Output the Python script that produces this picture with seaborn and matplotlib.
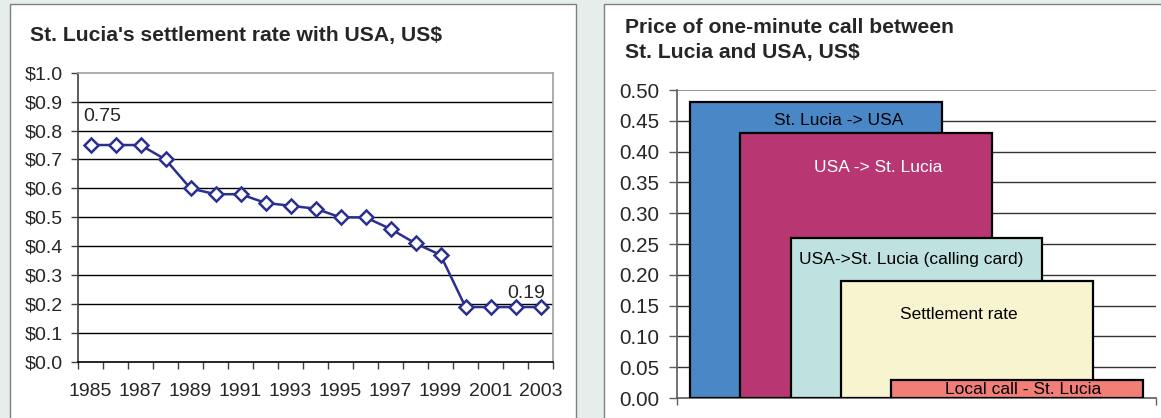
import numpy as np
import pandas as pd
import matplotlib
matplotlib.use("Agg")
import matplotlib.pyplot as plt
from matplotlib.patches import Rectangle
import seaborn as sns

# Left chart data: settlement rate, US$
years = list(range(1985, 2004))
rates = [0.75, 0.75, 0.75, 0.70, 0.60, 0.58, 0.58, 0.55, 0.54, 0.53,
         0.50, 0.50, 0.46, 0.41, 0.37, 0.19, 0.19, 0.19, 0.19]

# Right chart data: price of one-minute call, US$
call_types = ["St. Lucia -> USA", "USA -> St. Lucia",
              "USA->St. Lucia (calling card)", "Settlement rate",
              "Local call - St. Lucia"]
call_prices = [0.48, 0.43, 0.26, 0.19, 0.03]
bar_colors = ["#4A87C7", "#B83772", "#BFE2E0", "#F8F4D0", "#F17F77"]
label_colors = ["black", "white", "black", "black", "black"]

sns.set_theme(style="white")
plt.rcParams['font.family'] = ['Liberation Sans', 'DejaVu Sans']

W, H = 1161, 418
fig = plt.figure(figsize=(W / 100, H / 100), dpi=100)
fig.patch.set_facecolor("#E5EEEA")

# White panels behind the two charts
for x0, x1 in [(10, 576), (604, 1175)]:
    fig.patches.append(Rectangle((x0 / W, -0.05), (x1 - x0) / W, 1 - 4 / H + 0.05,
                                 transform=fig.transFigure, facecolor="white",
                                 edgecolor="#7F7F7F", linewidth=1.0, zorder=-5))

# ---- Left: line chart ----
ax1 = fig.add_axes([78 / W, 1 - 362 / H, (553 - 78) / W, (362 - 72.7) / H])
ax1.patch.set_alpha(0)
df = pd.DataFrame({"year": years, "rate": rates})
sns.lineplot(data=df, x="year", y="rate", ax=ax1, color="#2B2F8F", linewidth=1.8,
             marker="D", markersize=7.5, markerfacecolor="white",
             markeredgecolor="#2B2F8F", markeredgewidth=1.8, zorder=3)
ax1.set_xlim(years[0] - 0.5, years[-1] + 0.5)
ax1.set_ylim(0, 1.0)
ax1.set_yticks(np.arange(0, 1.01, 0.1))
ax1.set_yticklabels([f"${v:.1f}" for v in np.arange(0, 1.01, 0.1)])
ax1.set_xticks(np.arange(years[0] - 0.5, years[-1] + 1), labels=[])
ax1.set_xticks(years[::2], labels=[str(y) for y in years[::2]], minor=True)
ax1.tick_params(axis="x", which="major", direction="out", length=5, width=1,
                color="#404040", bottom=True)
ax1.tick_params(axis="x", which="minor", length=0, pad=15, labelsize=14)
ax1.tick_params(axis="y", direction="out", length=5, width=1, color="#404040",
                left=True, pad=6, labelsize=14)
for v in np.arange(0.1, 0.95, 0.1):
    ax1.axhline(v, color="black", linewidth=1.0, zorder=1)
ax1.spines["top"].set_color("#A0A0A0")
ax1.spines["right"].set_color("#A0A0A0")
ax1.spines["left"].set_color("#404040")
ax1.spines["bottom"].set_color("black")
for s in ax1.spines.values():
    s.set_linewidth(1.2)
ax1.set_xlabel("")
ax1.set_ylabel("")
ax1.annotate(f"{rates[0]:.2f}", (years[0], rates[0]), xytext=(8.6, 17),
             textcoords="offset points", ha="center", va="baseline", fontsize=14)
ax1.annotate(f"{rates[-1]:.2f}", (years[-1], rates[-1]), xytext=(-10, 6.5),
             textcoords="offset points", ha="center", va="baseline", fontsize=14)
fig.text(30 / W, 1 - 41 / H, "St. Lucia's settlement rate with USA, US$",
         fontsize=15.2, fontweight="bold", va="baseline", ha="left")

# ---- Right: overlapping bars ----
ax2 = fig.add_axes([677 / W, 1 - 398 / H, (1156 - 677) / W, (398 - 90) / H])
ax2.patch.set_alpha(0)
step, width, start = 1.0, 5.0, 0.26
label_dx = [2.96, 2.74, 2.39, 2.35, 2.62]
label_y = [0.451, 0.375, 0.225, 0.136, 0.014]
for i, (name, price) in enumerate(zip(call_types, call_prices)):
    left = start + i * step
    ax2.bar(left, price, width=width, align="edge", color=bar_colors[i],
            edgecolor="black", linewidth=1.6, zorder=3 + i)
    ax2.text(left + label_dx[i], label_y[i], name, ha="center", va="center",
             color=label_colors[i], fontsize=12.5, zorder=10)
ax2.set_xlim(0, 9.52)
ax2.set_ylim(0, 0.5)
ax2.set_yticks(np.arange(0, 0.501, 0.05))
ax2.set_yticklabels([f"{v:.2f}" for v in np.arange(0, 0.501, 0.05)])
for v in np.arange(0.05, 0.46, 0.05):
    ax2.axhline(v, color="#333333", linewidth=1.0, zorder=1)
ax2.axhline(0.5, color="#808080", linewidth=1.2, zorder=1)
ax2.set_xticks([0, 9.52], labels=[])
ax2.tick_params(axis="x", direction="out", length=5, width=1, color="#606060",
                bottom=True)
ax2.tick_params(axis="y", direction="out", length=6, width=1, color="#606060",
                left=True, pad=7, labelsize=14.8)
ax2.spines["top"].set_visible(False)
ax2.spines["right"].set_visible(False)
ax2.spines["left"].set_color("#606060")
ax2.spines["bottom"].set_color("#606060")
fig.text(625 / W, 1 - 33 / H, "Price of one-minute call between",
         fontsize=15.2, fontweight="bold", va="baseline", ha="left")
fig.text(625 / W, 1 - 58 / H, "St. Lucia and USA, US$",
         fontsize=15.2, fontweight="bold", va="baseline", ha="left")

fig.savefig("out.png", dpi=100)
